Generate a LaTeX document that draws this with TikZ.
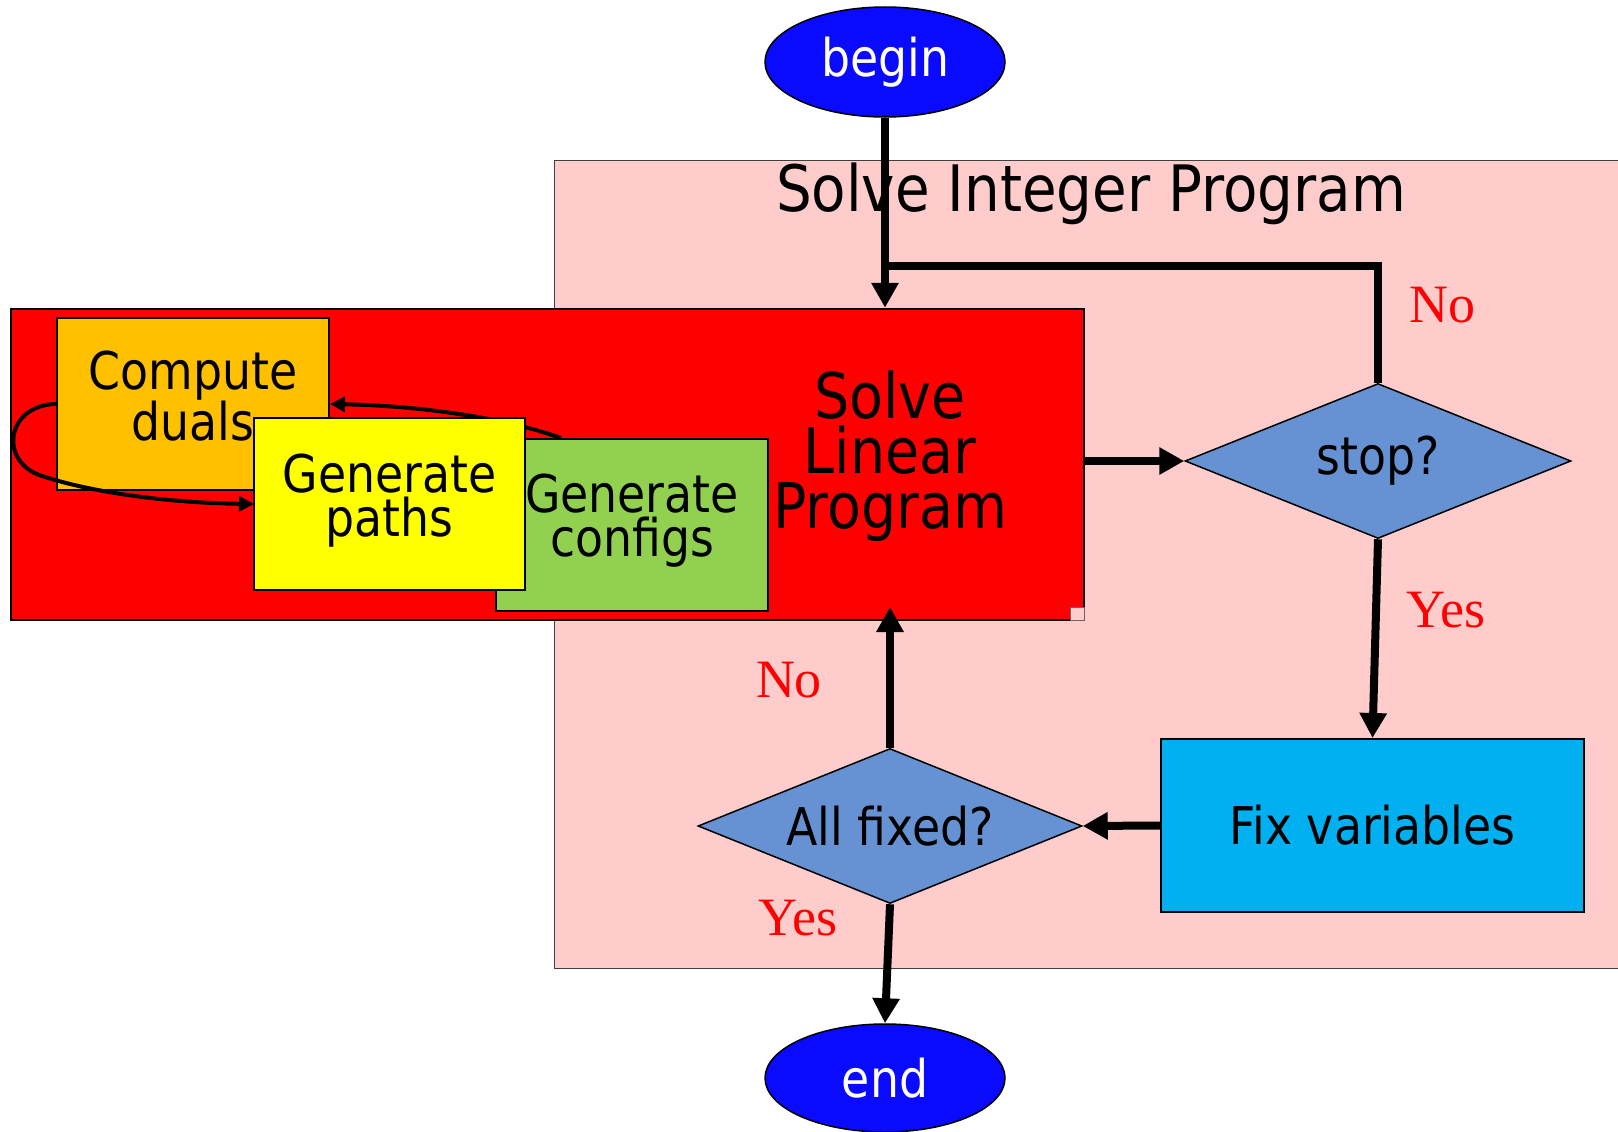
\documentclass[tikz,border=0pt]{standalone}
\usepackage{fontspec}
\setmainfont{DejaVu Sans}[FakeStretch=0.88]
\newfontfamily\tmsfont{Liberation Serif}
\usetikzlibrary{shapes.geometric,arrows.meta}
\definecolor{pinkbg}{RGB}{255,204,204}
\definecolor{lpred}{RGB}{255,0,0}
\definecolor{dualsc}{RGB}{255,192,0}
\definecolor{pathsc}{RGB}{255,255,0}
\definecolor{configc}{RGB}{146,208,80}
\definecolor{decc}{RGB}{102,146,212}
\definecolor{fixc}{RGB}{0,176,240}
\definecolor{termc}{RGB}{10,10,255}
\begin{document}
\begin{tikzpicture}[x=1pt,y=-1pt,
  term/.style={ellipse, fill=termc, draw=black, line width=1.5pt, minimum width=240pt, minimum height=110pt, inner sep=0pt, text=white, font=\fontsize{52}{60}\selectfont},
  dec/.style={diamond, aspect=2.48, fill=decc, draw=black, line width=1.5pt, minimum width=386pt, minimum height=155pt, inner sep=0pt, font=\fontsize{52}{60}\selectfont},
  proc/.style={rectangle, draw=black, line width=2pt, inner sep=0pt},
  boxtxt/.style={inner sep=0pt, align=center, font=\fontsize{52}{44}\selectfont},
  flow/.style={line width=8pt, -{Triangle[length=25pt,width=26pt]}},
  loopar/.style={line width=4pt, -{Triangle[length=15pt,width=15pt]}},
  lbl/.style={text=red, anchor=base, inner sep=0pt, font=\tmsfont\fontsize{54}{60}\selectfont}
]
\useasboundingbox (0,0) rectangle (1618,1132);
% containers
\node[rectangle, fill=pinkbg, draw=black!75, line width=1pt, minimum width=1071pt, minimum height=808pt, inner sep=0pt] (ipbox) at (1089.5,564) {};
\node[anchor=base, inner sep=0pt, font=\fontsize{64}{70}\selectfont] (title) at (1091,211) {Solve Integer Program};
\node[proc, fill=lpred, line width=2.5pt, minimum width=1073pt, minimum height=311pt] (slp) at (547.5,464.5) {};
\filldraw[fill=pinkbg, draw=black!60, line width=1pt] (1070,607) rectangle (1084,620);
\node[inner sep=0pt, align=center, font=\fontsize{63}{55}\selectfont] (slpT) at (890,456) {Solve\\Linear\\Program};
% column generation cluster
\node[proc, fill=dualsc, minimum width=272pt, minimum height=172pt] (duals) at (193,404) {};
\node[boxtxt] (dualsT) at (193,396) {Compute\\duals};
\draw[loopar] (duals.west) .. controls (6,405) and (-2,462) .. (42,476) .. controls (100,495) and (180,503) .. (254,504) coordinate (pathsin);
\node[proc, fill=configc, minimum width=272pt, minimum height=172pt] (configs) at (632,525) {};
\draw[loopar] ([xshift=-71pt]configs.north) .. controls (511,420) and (429,406) .. (duals.east);
\node[proc, fill=pathsc, minimum width=271pt, minimum height=172pt] (paths) at (389.5,504) {};
\node[boxtxt] (pathsT) at (389.5,501) {Generate\\paths};
\node[boxtxt] (configsT) at (632,521) {Generate\\configs};
% main flow nodes
\node[term] (begin) at (885,62) {begin};
\node[term, minimum height=108pt] (end) at (885,1078) {end};
\node[dec] (stop) at (1378,461) {stop?};
\node[proc, fill=fixc, minimum width=423pt, minimum height=173pt, font=\fontsize{52}{60}\selectfont] (fix) at (1372.5,825.5) {Fix variables};
\node[dec, minimum width=384pt] (allfixed) at (890,826) {All fixed?};
\coordinate (joint) at (885,266);
\coordinate (lpin) at (890,607);
% connectors
\draw[flow] (begin.south) -- (begin.south |- slp.north);
\draw[line width=8pt] (stop.north) |- (joint);
\draw[flow] (slp.east |- stop.west) -- (stop.west);
\draw[flow] (stop.south) -- (fix.north);
\draw[flow] (fix.west) -- (allfixed.east);
\draw[flow] (allfixed.north) -- (lpin);
\draw[flow] (allfixed.south) -- (end.north);
% labels
\node[lbl] (noTop) at (1442,322) {No};
\node[lbl] (yesRight) at (1446,627) {Yes};
\node[lbl] (noLeft) at (789,697) {No};
\node[lbl] (yesBottom) at (798,935) {Yes};
\end{tikzpicture}
\end{document}
